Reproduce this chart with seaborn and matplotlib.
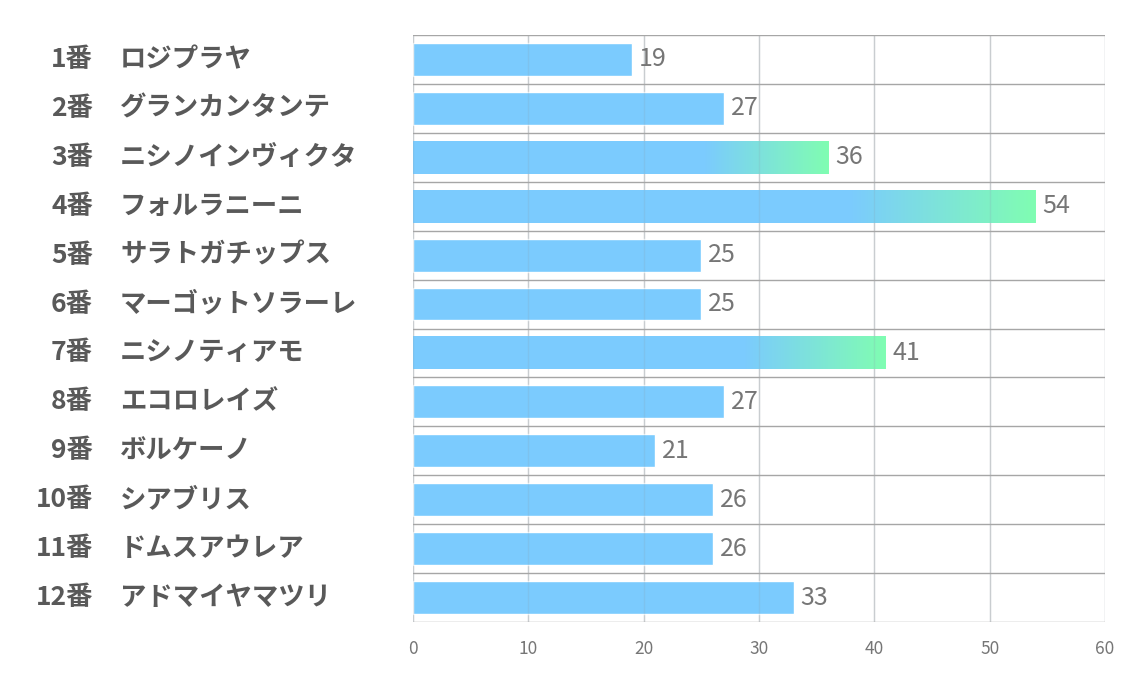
import numpy as np
import matplotlib
matplotlib.use('Agg')
import matplotlib.pyplot as plt
import seaborn as sns
from matplotlib.colors import LinearSegmentedColormap
from matplotlib.transforms import blended_transform_factory

# Data
numbers = ['1番', '2番', '3番', '4番', '5番', '6番',
           '7番', '8番', '9番', '10番', '11番', '12番']
horses = ['ロジプラヤ', 'グランカンタンテ', 'ニシノインヴィクタ', 'フォルラニーニ',
          'サラトガチップス', 'マーゴットソラーレ', 'ニシノティアモ', 'エコロレイズ',
          'ボルケーノ', 'シアブリス', 'ドムスアウレア', 'アドマイヤマツリ']
scores = [19, 27, 36, 54, 25, 25, 41, 27, 21, 26, 26, 33]
x_ticks = [0, 10, 20, 30, 40, 50, 60]

# Style
BLUE = '#7bcbfe'
GREEN = '#80fdb2'
LABEL_GREY = '#595959'
VALUE_GREY = '#767676'

sns.set_theme(style='white')
plt.rcParams['font.family'] = ['Noto Sans CJK JP', 'DejaVu Sans']

fig = plt.figure(figsize=(11.34, 6.8), dpi=100)
ax = fig.add_axes([0.3642, 0.0853, 0.6102, 0.8632])

sns.barplot(x=scores, y=horses, orient='h', color=BLUE, saturation=1,
            width=0.67, ax=ax, zorder=2)

# top-3 bars: flat blue for the first 70%, then fade to green
cmap = LinearSegmentedColormap.from_list('bg', [BLUE, GREEN])
t = np.linspace(0, 1, 600)
grad = np.clip((t - 0.7) / 0.3, 0, 1).reshape(1, -1)
top3 = sorted(scores, reverse=True)[:3]
for patch, val in zip(ax.patches, scores):
    if val in top3:
        patch.set_visible(False)
        y0 = patch.get_y()
        y1 = y0 + patch.get_height()
        ax.imshow(grad, cmap=cmap, vmin=0, vmax=1, aspect='auto',
                  interpolation='nearest', extent=[0, val, y1, y0], zorder=2)

ax.set_xlim(0, 60)
ax.set_ylim(len(scores) - 0.5, -0.5)

# grid: vertical lines show faintly through the bars
for xv in x_ticks:
    ax.axvline(xv, color='#d9d9d9', lw=1, zorder=0)
    ax.axvline(xv, color='#8aa0b0', lw=1, alpha=0.2, zorder=3)
for i in range(len(scores) + 1):
    ax.axhline(i - 0.5, color='#a6a6a6', lw=1, zorder=4)

for s in ax.spines.values():
    s.set_visible(False)

ax.set_xticks(x_ticks)
ax.set_xticklabels([str(v) for v in x_ticks], color=VALUE_GREY, fontsize=12.5)
ax.tick_params(axis='x', length=0, pad=13)
ax.set_yticks([])
ax.set_ylabel('')

# value labels
for i, val in enumerate(scores):
    ax.text(val + 0.6, i, str(val), va='center', ha='left',
            fontsize=18, color=VALUE_GREY, zorder=5)

# category labels on the left
trans = blended_transform_factory(fig.transFigure, ax.transData)
for i, (num, name) in enumerate(zip(numbers, horses)):
    ax.text(93 / 1134, i, num, transform=trans, ha='right', va='center',
            fontsize=19, fontweight='bold', color=LABEL_GREY)
    ax.text(120 / 1134, i, name, transform=trans, ha='left', va='center',
            fontsize=19, fontweight='bold', color=LABEL_GREY)

fig.savefig('out.png', dpi=100)
plt.close(fig)
